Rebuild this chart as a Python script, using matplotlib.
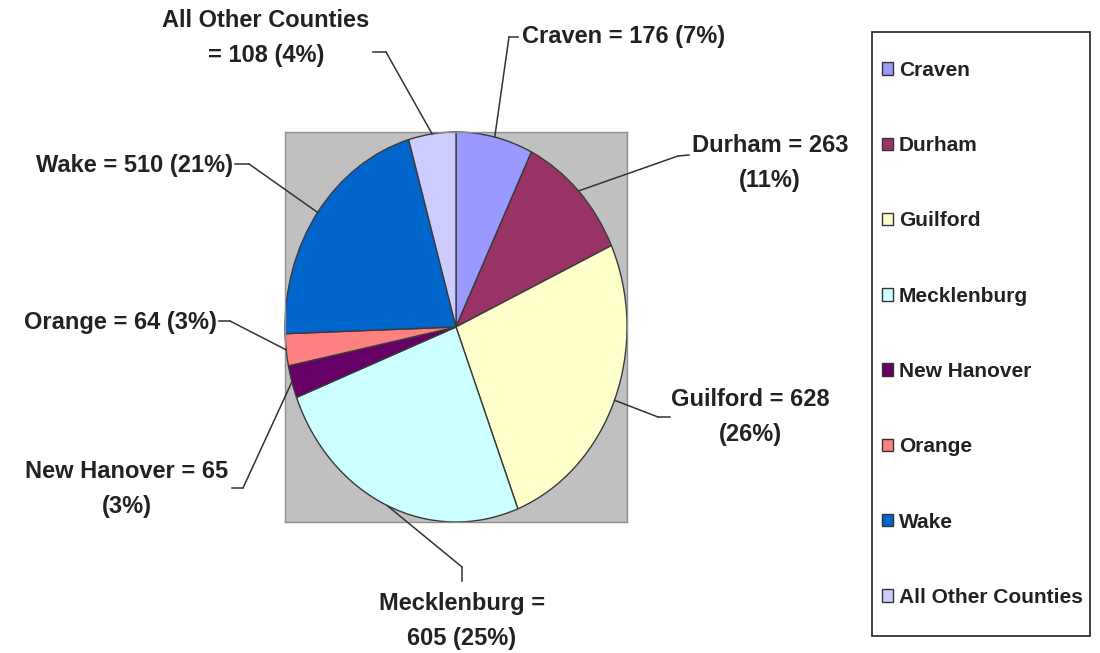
import numpy as np
import matplotlib
matplotlib.use("Agg")
from matplotlib import pyplot as plt
from matplotlib.patches import Patch, Rectangle
from matplotlib.lines import Line2D

# data
counties = ["Craven", "Durham", "Guilford", "Mecklenburg", "New Hanover",
            "Orange", "Wake", "All Other Counties"]
counts = [176, 263, 628, 605, 65, 64, 510, 108]
colors = ["#9999FF", "#993366", "#FFFFCC", "#CCFFFF", "#660066",
          "#FF8080", "#0066CC", "#CCCCFF"]
# where each data label wraps: 0 = one line, "name" = after name,
# "eq" = after "=", "value" = before the percentage
label_breaks = [0, "value", "value", "eq", "value", 0, 0, "name"]

W, H = 1100, 653
FONT = ["Liberation Sans", "DejaVu Sans"]
TXT = "#222222"


def px(x, y):
    # pixel position (from top-left) -> figure fraction
    return x / W, 1 - y / H


total = sum(counts)
fig = plt.figure(figsize=(W / 100, H / 100), dpi=100)
ax = fig.add_axes([285 / W, 131 / H, 342 / W, 390 / H])

wedges, _ = ax.pie(counts, colors=colors, startangle=90, counterclock=False,
                   wedgeprops=dict(edgecolor="#3a3a3a", linewidth=1.0))
for w in wedges:
    w.set_clip_on(False)
ax.set_aspect("auto")
ax.set_xlim(-1, 1)
ax.set_ylim(-1, 1)
ax.set_frame_on(True)
ax.set_facecolor("#C0C0C0")
for s in ax.spines.values():
    s.set_color("#909090")
    s.set_linewidth(1.0)
ax.set_xticks([])
ax.set_yticks([])

# data labels: text centre, alignment, tick start, elbow (pixels)
layout = [
    dict(xy=(522, 36), ha="left", tick=((518, 37), (509, 37))),
    dict(xy=(770, 163), ha="center", tick=((689, 155), (678, 156))),
    dict(xy=(750, 417), ha="center", tick=((670, 417), (658, 417))),
    dict(xy=(462, 621), ha="center", tick=((462, 581), (462, 567))),
    dict(xy=(127, 489), ha="center", tick=((232, 488), (243, 488))),
    dict(xy=(217, 322), ha="right", tick=((219, 321), (230, 321))),
    dict(xy=(233, 166), ha="right", tick=((235, 164), (249, 164))),
    dict(xy=(266, 38), ha="center", tick=((373, 52), (386, 52))),
]

for name, n, brk, w, lay in zip(counties, counts, label_breaks, wedges, layout):
    pct = round(n / total * 100)
    if brk == "name":
        txt = f"{name}\n= {n} ({pct}%)"
    elif brk == "eq":
        txt = f"{name} =\n{n} ({pct}%)"
    elif brk == "value":
        txt = f"{name} = {n}\n({pct}%)"
    else:
        txt = f"{name} = {n} ({pct}%)"
    fig.text(*px(*lay["xy"]), txt, ha=lay["ha"], va="center",
             multialignment="center", family=FONT, fontweight="bold",
             fontsize=17, color=TXT, linespacing=1.65)

    # leader: short tick beside the text, then a line to the slice middle
    (x0, y0), (x1, y1) = lay["tick"]
    fig.add_artist(Line2D([px(x0, y0)[0], px(x1, y1)[0]],
                          [px(x0, y0)[1], px(x1, y1)[1]],
                          transform=fig.transFigure, color="#333333", lw=1.1))
    mid = np.deg2rad((w.theta1 + w.theta2) / 2)
    ax.annotate("", xy=(np.cos(mid), np.sin(mid)), xycoords="data",
                xytext=px(x1, y1), textcoords="figure fraction",
                arrowprops=dict(arrowstyle="-", color="#333333", lw=1.1,
                                shrinkA=0, shrinkB=0),
                annotation_clip=False)

# legend box, drawn separately so the entries can sit close to its left side
fig.add_artist(Rectangle(px(872, 636), 218 / W, 604 / H,
                         transform=fig.transFigure, facecolor="white",
                         edgecolor="#333333", linewidth=1.3, zorder=1))
handles = [Patch(facecolor=c, edgecolor="#333333", linewidth=1.0) for c in colors]
leg = fig.legend(handles, counties, loc="upper left",
                 bbox_to_anchor=px(882, 61), borderaxespad=0, borderpad=0,
                 frameon=False, prop=dict(family=FONT, weight="bold", size=15),
                 handlelength=0.55, handleheight=0.55, handletextpad=0.25,
                 labelspacing=2.7, labelcolor=TXT)
leg.set_zorder(2)

fig.savefig("out.png", dpi=100)
